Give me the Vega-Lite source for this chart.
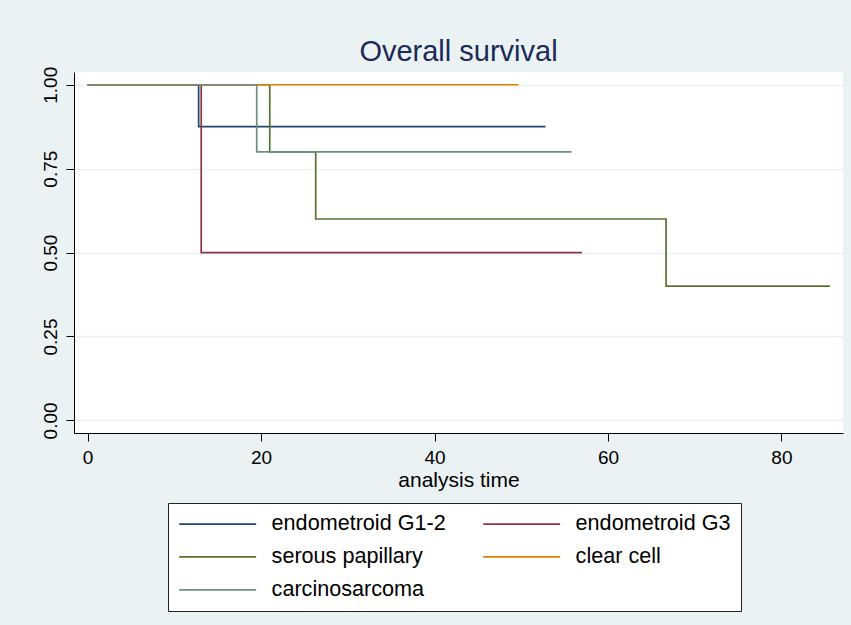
{
  "$schema": "https://vega.github.io/schema/vega-lite/v6.json",
  "width": 769,
  "height": 361,
  "autosize": {"type": "none"},
  "padding": {"left": 74, "top": 72, "right": 8, "bottom": 192},
  "background": "#eaf2f3",
  "config": {
    "font": "Liberation Sans",
    "view": {"fill": "white", "stroke": null}
  },
  "title": {
    "text": "Overall survival",
    "fontSize": 29,
    "font": "Liberation Sans",
    "fontWeight": "normal",
    "color": "#1c2a58",
    "anchor": "middle",
    "frame": "group",
    "baseline": "alphabetic",
    "offset": -24
  },
  "data": {
    "values": [
      {"group": "endometroid G1-2", "time": 0, "surv": 1},
      {"group": "endometroid G1-2", "time": 12.8, "surv": 0.875},
      {"group": "endometroid G1-2", "time": 52.8, "surv": 0.875},
      {"group": "endometroid G3", "time": 0, "surv": 1},
      {"group": "endometroid G3", "time": 13.1, "surv": 0.5},
      {"group": "endometroid G3", "time": 57.0, "surv": 0.5},
      {"group": "serous papillary", "time": 0, "surv": 1},
      {"group": "serous papillary", "time": 21.0, "surv": 0.8},
      {"group": "serous papillary", "time": 26.3, "surv": 0.6},
      {"group": "serous papillary", "time": 66.7, "surv": 0.4},
      {"group": "serous papillary", "time": 85.6, "surv": 0.4},
      {"group": "clear cell", "time": 0, "surv": 1},
      {"group": "clear cell", "time": 49.7, "surv": 1},
      {"group": "carcinosarcoma", "time": 0, "surv": 1},
      {"group": "carcinosarcoma", "time": 19.5, "surv": 0.8},
      {"group": "carcinosarcoma", "time": 55.8, "surv": 0.8}
    ]
  },
  "mark": {"type": "line", "interpolate": "step-after", "strokeWidth": 1.7},
  "encoding": {
    "x": {
      "field": "time",
      "type": "quantitative",
      "scale": {"domain": [-1.57, 87.1], "nice": false, "zero": false},
      "axis": {
        "title": "analysis time",
        "values": [0, 20, 40, 60, 80],
        "format": "d",
        "grid": false,
        "domainColor": "black",
        "domainWidth": 1,
        "tickColor": "black",
        "tickSize": 8,
        "labelFontSize": 19,
        "labelColor": "black",
        "labelPadding": 7,
        "titleFontSize": 21,
        "titleFontWeight": "normal",
        "titleColor": "black",
        "titlePadding": 2
      }
    },
    "y": {
      "field": "surv",
      "type": "quantitative",
      "scale": {"domain": [-0.0375, 1.038], "nice": false, "zero": false},
      "axis": {
        "title": null,
        "values": [0, 0.25, 0.5, 0.75, 1],
        "format": ".2f",
        "grid": true,
        "gridColor": "#eaf2f3",
        "gridWidth": 1.5,
        "domainColor": "black",
        "domainWidth": 1,
        "tickColor": "black",
        "tickSize": 8,
        "labelAngle": -90,
        "labelAlign": "center",
        "labelBaseline": "alphabetic",
        "labelFontSize": 19,
        "labelColor": "black",
        "labelPadding": 10
      }
    },
    "color": {
      "field": "group",
      "type": "nominal",
      "scale": {
        "domain": ["endometroid G1-2", "endometroid G3", "serous papillary", "clear cell", "carcinosarcoma"],
        "range": ["#1a476f", "#90353b", "#55752f", "#e37e00", "#6e8e84"]
      },
      "legend": {
        "title": null,
        "orient": "none",
        "legendX": 94,
        "legendY": 431,
        "columns": 2,
        "direction": "horizontal",
        "symbolType": "M-1,0H7",
        "symbolSize": 370,
        "symbolStrokeWidth": 1.7,
        "labelFontSize": 21.6,
        "labelColor": "black",
        "labelOffset": 72,
        "labelLimit": 400,
        "columnPadding": 33,
        "rowPadding": 10,
        "padding": 10,
        "fillColor": "white",
        "strokeColor": "#222222"
      }
    }
  }
}
